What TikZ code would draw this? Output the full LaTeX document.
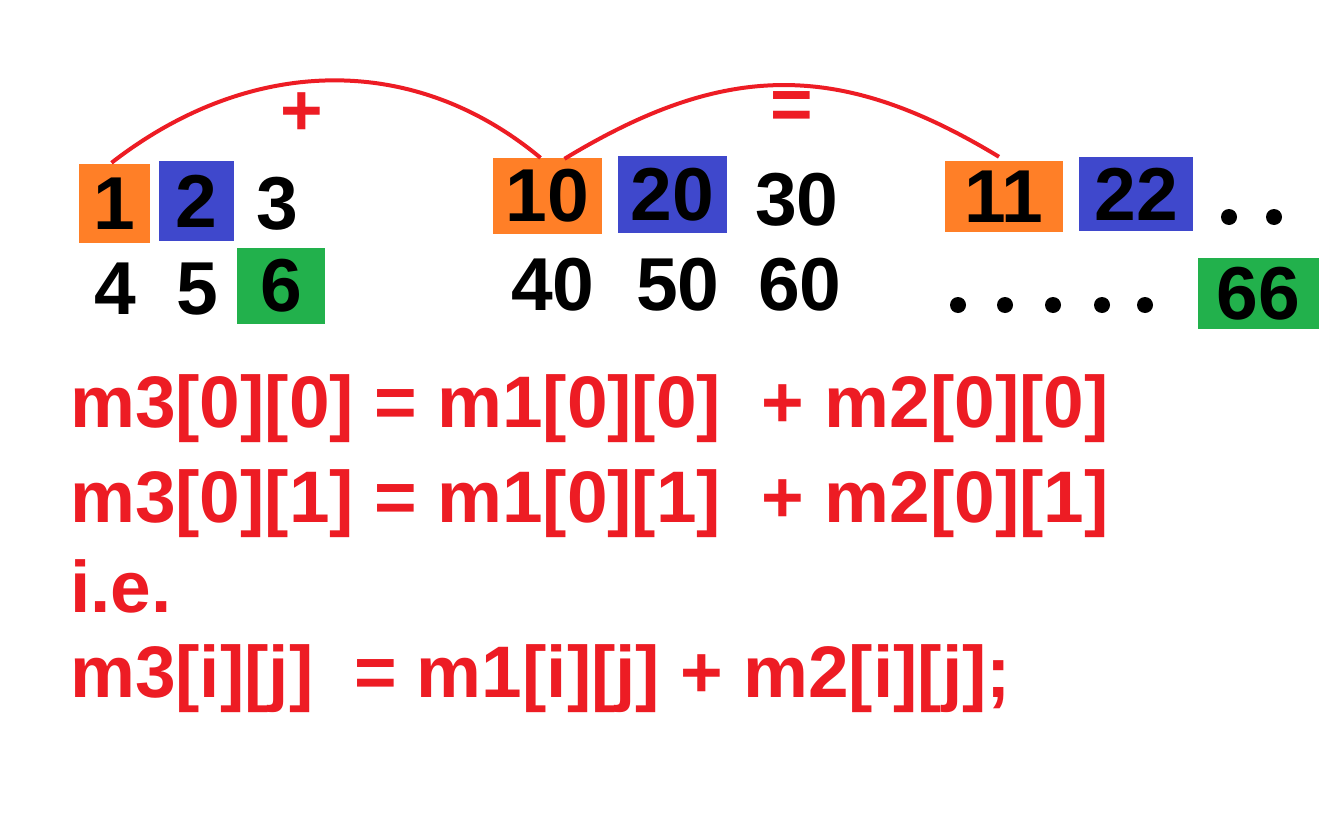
\documentclass[tikz,border=0pt]{standalone}
\usepackage{fontspec}
\setmainfont{Liberation Sans}
\usetikzlibrary{calc}
\usetikzlibrary{positioning}
\definecolor{pred}{HTML}{ED1C24}
\definecolor{porange}{HTML}{FF7F27}
\definecolor{pblue}{HTML}{3F48CC}
\definecolor{pgreen}{HTML}{22B14C}
\newcommand{\cellfont}{\bfseries\fontsize{75}{80}\selectfont}
\newcommand{\codefont}{\bfseries\fontsize{73}{80}\selectfont}
\tikzset{cell/.style={inner sep = 0pt, font=\cellfont, text=black, align = center},
  code/.style={inner sep = 0pt, font=\codefont, text=pred, anchor = base west},
  arc/.style={draw=pred, line width = 4pt}}

\begin{document}
\begin{tikzpicture}[x=1pt, y=-1pt]
  \path[fill=white] (0,0) rectangle (1328,816);
  % coloured cells
  \foreach \n/\x/\y/\w/\h/\c/\t in {b1/114.5/203.5/71/79/porange/1, b2/196.5/201/75/80/pblue/2, b6/281/286/88/76/pgreen/6, b10/547.5/196/109/76/porange/10, b20/672.5/194.5/109/77/pblue/20, b11/1004/196.5/118/71/porange/11, b22/1136/194/114/74/pblue/22, b66/1258.5/293.5/121/71/pgreen/66}{
    \node[cell, fill=\c, minimum width = \w pt, minimum height = \h pt] (\n) at (\x,\y) {\t};
  }
  % plain cells
  \foreach \n/\x/\y/\t in {t3/277/204/3, t4/115/289/4, t5/197/289/5, t30/797/200/30, t40/553/285/40, t50/678/285/50, t60/800/285/60}{
    \node[cell] (\n) at (\x,\y) {\t};
  }
  \foreach \x in {1229, 1274}{
    \fill (\x,217) circle (8pt);
  }
  \foreach \x in {958, 1005, 1053, 1102, 1145}{
    \fill (\x,305) circle (8pt);
  }

  \draw[arc] ([xshift=-3pt, yshift=1pt]b1.north) .. controls +(135,-105) and +(-130,-108) .. ([xshift=-7pt]b10.north);
  \draw[arc] ([xshift=17pt, yshift=-1pt]b10.north) .. controls +(160,-97) and +(-160,-97) .. ([xshift=-5pt, yshift=4pt]b11.north);
  \node[cell, text=pred, font=\codefont] (plus) at (302,114) {+};
  \node[cell, text=pred, font=\codefont] (equal) at (792,111) {=};

  \node[code] (l1) at (70,427) {m3[0][0] = m1[0][0]\ \ + m2[0][0]};
  \node[code] (l2) at (70,522) {m3[0][1] = m1[0][1]\ \ + m2[0][1]};
  \node[code] (l3) at (70,612) {i.e.};
  \node[code] (l4) at (70,697) {m3[i][j]\ \ = m1[i][j] + m2[i][j];};
\end{tikzpicture}
\end{document}
